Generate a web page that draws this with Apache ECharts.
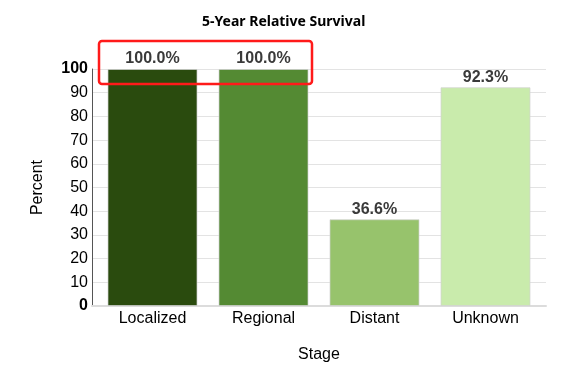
<!DOCTYPE html>
<html><head><meta charset="utf-8">
<script src="https://cdn.jsdelivr.net/npm/echarts@6/dist/echarts.min.js"></script>
<style>html,body{margin:0;padding:0;background:#fff}#c{width:584px;height:371px}</style>
</head><body><div id="c"></div>
<script>
const categories = ['Localized', 'Regional', 'Distant', 'Unknown'];
const survival = [100.0, 100.0, 36.6, 92.3];
const barColors = ['#2a4b0e', '#548a33', '#97c36c', '#c9ebac'];
const yTicks = [0, 10, 20, 30, 40, 50, 60, 70, 80, 90, 100];

const chart = echarts.init(document.getElementById('c'), null, {renderer: 'canvas'});
const font = 'Liberation Sans';
chart.setOption({
  animation: false,
  title: {
    text: '5-Year Relative Survival',
    left: 197, top: 10,
    textStyle: {fontFamily: 'Noto Sans', fontWeight: 'bold', fontSize: 14, color: '#000'}
  },
  grid: [
    {left: 92, right: 38, top: 69, bottom: 65},
    {left: 97, right: 43, top: 69, bottom: 65}
  ],
  xAxis: [
    {type: 'category', gridIndex: 0, data: categories,
     axisLine: {show: true, lineStyle: {color: '#dcdcdc', width: 2}},
     axisTick: {show: false}, axisLabel: {show: false}, splitLine: {show: false},
     name: 'Stage', nameLocation: 'middle', nameGap: 41,
     nameTextStyle: {fontFamily: font, fontSize: 16, color: '#000'}},
    {type: 'category', gridIndex: 1, data: categories,
     axisLine: {show: false}, axisTick: {show: false},
     axisLabel: {fontFamily: font, fontSize: 16, color: '#000', margin: 5}}
  ],
  yAxis: [
    {type: 'value', gridIndex: 0, min: 0, max: 100, interval: 10,
     axisLine: {show: true, lineStyle: {color: '#555', width: 1}},
     axisTick: {show: false},
     splitLine: {lineStyle: {color: '#e3e3e3', width: 1}},
     axisLabel: {fontFamily: font, fontSize: 16, color: '#000', margin: 4,
       formatter: v => (v === yTicks[0] || v === yTicks[yTicks.length - 1]) ? '{b|' + v + '}' : String(v),
       rich: {b: {fontFamily: font, fontSize: 16, fontWeight: 'bold', color: '#000'}}},
     name: 'Percent', nameLocation: 'middle', nameGap: 46, nameRotate: 90,
     nameTextStyle: {fontFamily: font, fontSize: 16, color: '#000'}},
    {type: 'value', gridIndex: 1, min: 0, max: 100, interval: 10, show: false}
  ],
  series: [{
    type: 'bar', xAxisIndex: 1, yAxisIndex: 1, barWidth: 90,
    data: survival.map((v, i) => ({value: v, itemStyle: {color: barColors[i]}})),
    itemStyle: {borderColor: 'rgba(210,210,210,0.7)', borderWidth: 1},
    label: {show: true, position: 'top', distance: 2, fontFamily: font, fontSize: 16, fontWeight: 'bold', color: '#3a3a3a',
      formatter: p => p.value.toFixed(1) + '%'}
  }],
  graphic: [{
    type: 'rect', shape: {x: 99, y: 41, width: 213, height: 43, r: 3},
    style: {fill: 'none', stroke: '#ff1a1a', lineWidth: 2.5}, z: 100
  }]
});
</script></body></html>
